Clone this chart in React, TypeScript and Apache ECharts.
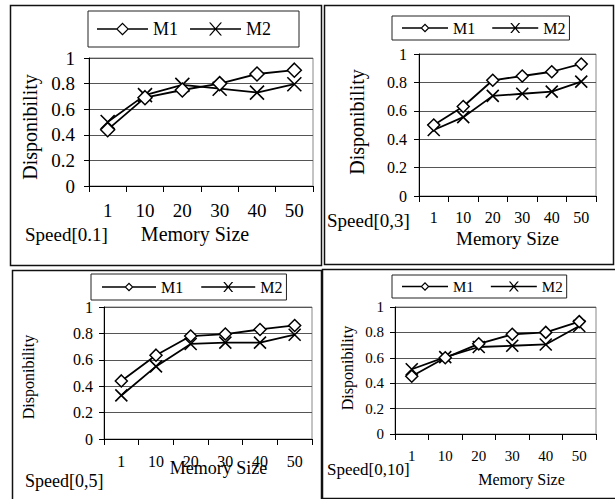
import React, { useEffect, useRef } from 'react';
import * as echarts from 'echarts';

// ---------- data ----------
const categories = ['1', '10', '20', '30', '40', '50'];
const seriesNames = ['M1', 'M2'];
const speedLabels = ['Speed[0.1]', 'Speed[0,3]', 'Speed[0,5]', 'Speed[0,10]'];
const xAxisTitle = 'Memory Size';
const yAxisTitle = 'Disponibility';
const yMin = 0;
const yMax = 1;
const yInterval = 0.2;

const m1Speed01 = [0.44, 0.69, 0.75, 0.8, 0.875, 0.905];
const m2Speed01 = [0.5, 0.71, 0.79, 0.76, 0.73, 0.795];
const m1Speed03 = [0.5, 0.63, 0.815, 0.845, 0.875, 0.93];
const m2Speed03 = [0.465, 0.555, 0.705, 0.72, 0.735, 0.805];
const m1Speed05 = [0.44, 0.635, 0.78, 0.795, 0.83, 0.86];
const m2Speed05 = [0.33, 0.55, 0.72, 0.73, 0.73, 0.79];
const m1Speed010 = [0.455, 0.6, 0.71, 0.785, 0.8, 0.885];
const m2Speed010 = [0.51, 0.605, 0.685, 0.695, 0.705, 0.85];

const panelSeries = [
  [m1Speed01, m2Speed01],
  [m1Speed03, m2Speed03],
  [m1Speed05, m2Speed05],
  [m1Speed010, m2Speed010],
];

// ---------- layout / style ----------
const FONT = 'Liberation Serif, serif';

const panels = [
  {
    frame: [10.5, 5.5, 311, 260],
    grid: { left: 89, top: 58, width: 224, height: 128 },
    tickFont: 19, xMargin: 15, yMargin: 14,
    xName: { size: 20, gap: 38, padding: [0, 12, 0, 0] },
    yName: { size: 20, gap: 49, padding: [0, 10, 0, 0] },
    speed: { x: 25, y: 234, size: 19 },
    legend: { left: 88, top: 11, padding: [9, 28, 9, 9], gap: 12, w: 51, font: 18, d: 6.5, xh: 6.5 },
    symbolSize: 14,
  },
  {
    frame: [324.5, 5.5, 289, 259],
    grid: { left: 419, top: 54, width: 177, height: 142 },
    tickFont: 16, xMargin: 13, yMargin: 12,
    xName: { size: 19, gap: 33, padding: [0, 0, 0, 0] },
    yName: { size: 20, gap: 52, padding: [0, 0, 0, 6] },
    speed: { x: 327, y: 220, size: 19 },
    legend: { left: 392, top: 16, padding: [4, 4, 4, 10], gap: 17, w: 46, font: 16, d: 4.5, xh: 5 },
    symbolSize: 12,
  },
  {
    frame: [12.5, 270.5, 309, 240],
    grid: { left: 104, top: 307, width: 208, height: 132 },
    tickFont: 16, xMargin: 14, yMargin: 11,
    xName: { size: 18, gap: 20, padding: [0, 0, 0, 21] },
    yName: { size: 16, gap: 68, padding: [0, 8, 0, 0] },
    speed: { x: 25, y: 481, size: 18 },
    legend: { left: 91, top: 274, padding: [5, 4, 5, 11], gap: 18, w: 54, font: 16, d: 4.5, xh: 5 },
    symbolSize: 12,
  },
  {
    frame: [322.5, 269.5, 300, 229],
    grid: { left: 395, top: 307, width: 201, height: 127 },
    tickFont: 15, xMargin: 14, yMargin: 11,
    xName: { size: 16, gap: 37, padding: [0, 0, 0, 52] },
    yName: { size: 16, gap: 40, padding: [0, 0, 0, 5] },
    speed: { x: 327, y: 469, size: 17 },
    legend: { left: 392, top: 275, padding: [4, 4, 4, 10], gap: 17, w: 46, font: 15, d: 4.5, xh: 5 },
    symbolSize: 12,
  },
];

function diamondIcon(W: number, d: number, t: number) {
  const H = 2 * d;
  const cx = W / 2;
  const cy = d;
  const y1 = cy - t / 2;
  const y2 = cy + t / 2;
  const inner = d - 1.7;
  const a = cx - d + 0.5;
  const b = cx + d - 0.5;
  return (
    `path://M0 ${y1}L${a} ${y1}L${a} ${y2}L0 ${y2}Z` +
    `M${b} ${y1}L${W} ${y1}L${W} ${y2}L${b} ${y2}Z` +
    `M${cx} 0L${cx + d} ${cy}L${cx} ${H}L${cx - d} ${cy}Z` +
    `M${cx} ${cy - inner}L${cx - inner} ${cy}L${cx} ${cy + inner}L${cx + inner} ${cy}Z`
  );
}

function crossIcon(W: number, h: number, t: number, lw: number) {
  const H = 2 * h;
  const cx = W / 2;
  const cy = h;
  const y1 = cy - t / 2;
  const y2 = cy + t / 2;
  return (
    `path://M0 ${y1}L${W} ${y1}L${W} ${y2}L0 ${y2}Z` +
    `M${cx - h} 0L${cx - h + lw} 0L${cx + h} ${H}L${cx + h - lw} ${H}Z` +
    `M${cx + h - lw} 0L${cx + h} 0L${cx - h + lw} ${H}L${cx - h} ${H}Z`
  );
}

const X_SYMBOL = 'path://M0 0L10 10M10 0L0 10';

export default function App() {
  const ref = useRef<HTMLDivElement>(null);

  useEffect(() => {
    if (!ref.current) return;
    const chart = echarts.init(ref.current, undefined, { renderer: 'svg' });

    const grids: any[] = [];
    const xAxes: any[] = [];
    const yAxes: any[] = [];
    const series: any[] = [];
    const legends: any[] = [];
    const graphics: any[] = [];

    panels.forEach((p, i) => {
      grids.push({
        ...p.grid,
        show: true,
        borderColor: '#888',
        borderWidth: 1,
        backgroundColor: 'transparent',
      });
      xAxes.push({
        gridIndex: i,
        type: 'category',
        data: categories,
        boundaryGap: true,
        axisLine: { show: true, onZero: false, lineStyle: { color: '#000', width: 1 } },
        axisTick: { show: true, length: 6, alignWithLabel: false, interval: 0, lineStyle: { color: '#000' } },
        axisLabel: { interval: 0, fontFamily: FONT, fontSize: p.tickFont, color: '#000', margin: p.xMargin },
        splitLine: { show: false },
        name: xAxisTitle,
        nameLocation: 'middle',
        nameGap: p.xName.gap,
        nameMoveOverlap: false,
        nameTextStyle: { fontFamily: FONT, fontSize: p.xName.size, color: '#000', padding: p.xName.padding },
      });
      yAxes.push({
        gridIndex: i,
        type: 'value',
        min: yMin,
        max: yMax,
        interval: yInterval,
        axisLine: { show: true, lineStyle: { color: '#000', width: 1 } },
        axisTick: { show: true, length: 5, lineStyle: { color: '#000' } },
        splitLine: { show: true, lineStyle: { color: '#555', width: 1 } },
        axisLabel: { fontFamily: FONT, fontSize: p.tickFont, color: '#000', margin: p.yMargin },
        name: yAxisTitle,
        nameLocation: 'middle',
        nameRotate: 90,
        nameGap: p.yName.gap,
        nameMoveOverlap: false,
        nameTextStyle: { fontFamily: FONT, fontSize: p.yName.size, color: '#000', padding: p.yName.padding },
      });
      const [m1, m2] = panelSeries[i];
      series.push({
        type: 'line',
        name: seriesNames[0],
        xAxisIndex: i,
        yAxisIndex: i,
        data: m1,
        symbol: 'diamond',
        symbolSize: p.symbolSize,
        showAllSymbol: true,
        lineStyle: { color: '#000', width: 1.8 },
        itemStyle: { color: '#fff', borderColor: '#000', borderWidth: 1.5 },
        emphasis: { disabled: true },
        z: 3,
      });
      series.push({
        type: 'line',
        name: seriesNames[1],
        xAxisIndex: i,
        yAxisIndex: i,
        data: m2,
        symbol: X_SYMBOL,
        symbolSize: p.symbolSize,
        showAllSymbol: true,
        lineStyle: { color: '#000', width: 1.8 },
        itemStyle: { color: '#000', borderColor: '#000', borderWidth: 1.6 },
        emphasis: { disabled: true },
        z: 2,
      });
      const lg = p.legend;
      legends.push({
        show: true,
        orient: 'horizontal',
        left: lg.left,
        top: lg.top,
        padding: lg.padding,
        itemGap: lg.gap,
        itemWidth: lg.w,
        itemHeight: Math.max(2 * lg.d, 2 * lg.xh),
        borderColor: '#222',
        borderWidth: 1,
        backgroundColor: '#fff',
        selectedMode: false,
        textStyle: { fontFamily: FONT, fontSize: lg.font, color: '#000' },
        itemStyle: { color: '#000', borderWidth: 0 },
        data: [
          { name: seriesNames[0], icon: diamondIcon(lg.w, lg.d, 1.6) },
          { name: seriesNames[1], icon: crossIcon(lg.w, lg.xh, 1.6, 1.6) },
        ],
      });
      graphics.push({
        type: 'rect',
        shape: { x: p.frame[0], y: p.frame[1], width: p.frame[2], height: p.frame[3] },
        style: { fill: 'none', stroke: '#111', lineWidth: 1.5 },
        silent: true,
      });
      graphics.push({
        type: 'text',
        x: p.speed.x,
        y: p.speed.y,
        silent: true,
        style: {
          text: speedLabels[i],
          fontFamily: FONT,
          fontSize: p.speed.size,
          fill: '#000',
          textAlign: 'left',
          verticalAlign: 'middle',
        },
      });
    });

    chart.setOption({
      animation: false,
      backgroundColor: '#fff',
      grid: grids,
      xAxis: xAxes,
      yAxis: yAxes,
      legend: legends,
      series,
      graphic: graphics,
    });

    return () => chart.dispose();
  }, []);

  return (
    <div
      ref={ref}
      style={{ position: 'fixed', left: 0, top: 0, width: 615, height: 499, background: '#fff' }}
    />
  );
}
